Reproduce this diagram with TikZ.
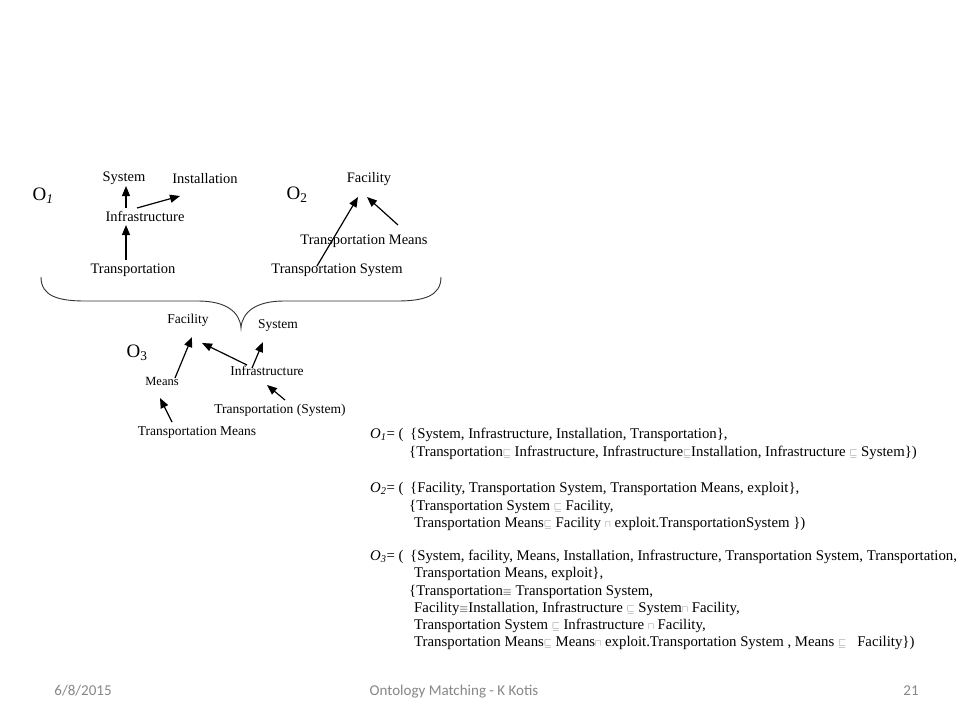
\documentclass[tikz,border=0pt]{standalone}
\usepackage{fontspec}
\setmainfont{Liberation Serif}
\newfontfamily\footfont{Carlito}
\usetikzlibrary{arrows.meta,calc}
\newcommand\mysq{\textcolor{black!50}{\scalebox{0.72}{$\sqsubseteq$}}}
\newcommand\mycap{\textcolor{black!50}{\scalebox{0.65}{$\sqcap$}}}
\newcommand\myeq{\scalebox{0.8}{$\equiv$}}
\begin{document}
\begin{tikzpicture}[x=1pt,y=-1pt,
  lbl/.style={font=\fontsize{14.5}{17}\selectfont,inner sep=0pt},
  lblc/.style={font=\fontsize{13.5}{16}\selectfont,inner sep=0pt},
  olbl/.style={font=\fontsize{19}{22}\selectfont,inner sep=0pt},
  txt/.style={font=\fontsize{14.8}{17}\selectfont,inner sep=0pt,anchor=base west},
  foot/.style={font=\footfont\fontsize{15}{18}\selectfont,text=black!47,inner sep=0pt,anchor=base},
  arr/.style={-{Triangle[length=10pt,width=8pt]},line width=1.2pt},
  brace/.style={line width=0.9pt,draw=black!80}]
\useasboundingbox (0,0) rectangle (960,720);
\fill[white] (0,0) rectangle (960,720);
% O1
\node[olbl] (o1) at (43,196) {O\textsubscript{\textit{1}}};
\node[lbl] (sys1) at (124,178) {System};
\node[lbl] (inst1) at (205,179) {Installation};
\node[lbl] (infra1) at (145,216) {Infrastructure};
\node[lbl] (trans1) at (133,270) {Transportation};
\draw[arr] ($(infra1)+(-19,-8)$) -- ($(sys1)+(2,8)$);
\draw[arr] ($(infra1)+(-8,-8)$) -- ($(inst1)+(-25,17)$);
\draw[arr] ($(trans1)+(-7,-10)$) -- ($(infra1)+(-19,9)$);
% O2
\node[olbl] (o2) at (297,195) {O\textsubscript{2}};
\node[lbl] (fac2) at (369,179) {Facility};
\node[lbl] (tm2) at (364,241) {Transportation Means};
\node[lbl] (ts2) at (337,270) {Transportation System};
\draw[arr] ($(ts2)+(-20,-4)$) -- ($(fac2)+(-11,18)$);
\draw[arr] ($(tm2)+(34,-16)$) -- ($(fac2)+(-2,18)$);
% brace
\draw[brace] (41,277) .. controls (41,296) and (58,301) .. (85,301) -- (198,301)
  .. controls (226,301) and (240,312) .. (241,328)
  .. controls (242,312) and (256,301) .. (284,301) -- (397,301)
  .. controls (424,301) and (441,296) .. (441,277);
% O3
\node[olbl] (o3) at (137,353) {O\textsubscript{3}};
\node[lblc] (fac3) at (188,320) {Facility};
\node[lblc] (sys3) at (278,325) {System};
\node[font=\fontsize{12.5}{15}\selectfont,inner sep=0pt] (means3) at (162,381) {Means};
\node[lblc] (infra3) at (267,371) {Infrastructure};
\node[lblc] (tsys3) at (280,410) {Transportation (System)};
\node[lblc] (tm3) at (197,432) {Transportation Means};
\draw[arr] ($(means3)+(13,-3)$) -- ($(fac3)+(4,17)$);
\draw[arr] ($(infra3)+(-20,-6)$) -- ($(fac3)+(14,23)$);
\draw[arr] ($(infra3)+(-15,-3)$) -- ($(sys3)+(-15,17)$);
\draw[arr] ($(tsys3)+(5,-10)$) -- ($(infra3)+(0,14)$);
\draw[arr] ($(tm3)+(-25,-10)$) -- ($(means3)+(-2,17)$);
% formulas
\node[txt] (f1a) at (370,438) {\textit{O}\textsubscript{\textit{1}}= (};
\node[txt] (f1b) at (410,438) {\{System, Infrastructure, Installation, Transportation\},};
\node[txt] (f1c) at (409,456) {\{Transportation\mysq{} Infrastructure, Infrastructure\mysq Installation, Infrastructure \mysq{} System\})};
\node[txt] (f2a) at (370,492) {\textit{O}\textsubscript{\textit{2}}= (};
\node[txt] (f2b) at (410,492) {\{Facility, Transportation System, Transportation Means, exploit\},};
\node[txt] (f2c) at (409,510) {\{Transportation System \mysq{} Facility,};
\node[txt] (f2d) at (414,527) {Transportation Means\mysq{} Facility \mycap{} exploit.TransportationSystem \})};
\node[txt] (f3a) at (370,560) {\textit{O}\textsubscript{\textit{3}}= (};
\node[txt] (f3b) at (410,560) {\{System, facility, Means, Installation, Infrastructure, Transportation System, Transportation,};
\node[txt] (f3c) at (414,577) {Transportation Means, exploit\},};
\node[txt] (f3d) at (409,595) {\{Transportation\myeq{} Transportation System,};
\node[txt] (f3e) at (414,612) {Facility\myeq Installation, Infrastructure \mysq{} System\mycap{} Facility,};
\node[txt] (f3f) at (414,629) {Transportation System \mysq{} Infrastructure \mycap{} Facility,};
\node[txt] (f3g) at (414,646) {Transportation Means\mysq{} Means\mycap{} exploit.Transportation System , Means \mysq{} \ \ Facility\})};
% footer
\node[foot] (date) at (83,695) {6/8/2015};
\node[foot] (title) at (454,695) {Ontology Matching - K Kotis};
\node[foot] (page) at (911,695) {21};
\end{tikzpicture}
\end{document}
